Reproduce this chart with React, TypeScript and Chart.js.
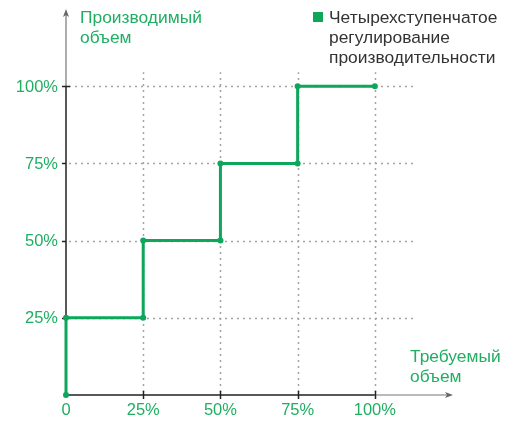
import React, { useEffect, useRef } from "react";
import { Chart, registerables } from "chart.js";

Chart.register(...registerables);

// Step profile: required volume (x, %) vs produced volume (y, %)
const requiredVolume = [0, 0, 25, 25, 50, 50, 75, 75, 100];
const producedVolume = [0, 25, 25, 50, 50, 75, 75, 100, 100];
const xTickValues = [0, 25, 50, 75, 100];
const yTickValues = [25, 50, 75, 100];
const xTickLabels = ["0", "25%", "50%", "75%", "100%"];
const yTickLabels = ["25%", "50%", "75%", "100%"];
const seriesLabel = ["Четырехступенчатое", "регулирование", "производительности"];
const yAxisTitle = ["Производимый", "объем"];
const xAxisTitle = ["Требуемый", "объем"];

const GREEN = "#0ea65a";
const TEXT_GREEN = "#1fae62";
const FONT = "Liberation Sans, Arial, sans-serif";

const axesPlugin = {
  id: "customAxes",
  beforeDatasetsDraw(chart: any) {
    const { ctx, chartArea, scales } = chart;
    const xs = scales.x;
    const ys = scales.y;
    const x0 = xs.getPixelForValue(0);
    const y0 = ys.getPixelForValue(0);
    ctx.save();

    // dotted grid
    ctx.strokeStyle = "#a3a3a3";
    ctx.lineWidth = 1.5;
    ctx.setLineDash([2, 4]);
    yTickValues.forEach((v) => {
      const py = Math.round(ys.getPixelForValue(v)) + 0.5;
      ctx.beginPath();
      ctx.moveTo(x0 + 3, py);
      ctx.lineTo(xs.getPixelForValue(113), py);
      ctx.stroke();
    });
    xTickValues.slice(1).forEach((v) => {
      const px = Math.round(xs.getPixelForValue(v)) + 0.5;
      ctx.beginPath();
      ctx.moveTo(px, y0 - 3);
      ctx.lineTo(px, ys.getPixelForValue(104.5));
      ctx.stroke();
    });
    ctx.setLineDash([]);

    // axis lines
    const x100 = xs.getPixelForValue(100);
    const y100 = ys.getPixelForValue(100);
    ctx.lineWidth = 1.5;
    ctx.strokeStyle = "#222";
    ctx.beginPath();
    ctx.moveTo(x0, y0);
    ctx.lineTo(x100, y0);
    ctx.moveTo(x0, y0);
    ctx.lineTo(x0, y100);
    ctx.stroke();
    ctx.strokeStyle = "#777";
    ctx.lineWidth = 1.2;
    ctx.beginPath();
    ctx.moveTo(x100, y0);
    ctx.lineTo(chartArea.right - 3, y0);
    ctx.moveTo(x0, y100);
    ctx.lineTo(x0, chartArea.top + 3);
    ctx.stroke();

    // arrow heads
    ctx.fillStyle = "#666";
    const r = chartArea.right;
    ctx.beginPath();
    ctx.moveTo(r, y0);
    ctx.lineTo(r - 8, y0 - 3);
    ctx.lineTo(r - 6, y0);
    ctx.lineTo(r - 8, y0 + 3);
    ctx.closePath();
    ctx.fill();
    const t = chartArea.top;
    ctx.beginPath();
    ctx.moveTo(x0, t);
    ctx.lineTo(x0 - 3, t + 8);
    ctx.lineTo(x0, t + 6);
    ctx.lineTo(x0 + 3, t + 8);
    ctx.closePath();
    ctx.fill();

    // tick marks
    ctx.strokeStyle = "#222";
    ctx.lineWidth = 1.5;
    yTickValues.forEach((v) => {
      const py = Math.round(ys.getPixelForValue(v)) + 0.5;
      ctx.beginPath();
      ctx.moveTo(x0 - 4, py);
      ctx.lineTo(v === 100 ? x0 + 4 : x0, py);
      ctx.stroke();
    });
    xTickValues.slice(1).forEach((v) => {
      const px = Math.round(xs.getPixelForValue(v)) + 0.5;
      ctx.beginPath();
      ctx.moveTo(px, y0 - 4);
      ctx.lineTo(px, y0 + 4);
      ctx.stroke();
    });

    // tick labels
    ctx.font = `16.5px ${FONT}`;
    ctx.fillStyle = TEXT_GREEN;
    ctx.textBaseline = "middle";
    ctx.textAlign = "right";
    yTickValues.forEach((v, i) => {
      ctx.fillText(yTickLabels[i], x0 - 8, ys.getPixelForValue(v) + 1);
    });
    ctx.textAlign = "center";
    xTickValues.forEach((v, i) => {
      ctx.fillText(xTickLabels[i], xs.getPixelForValue(v), y0 + 15);
    });

    // axis titles
    ctx.textAlign = "left";
    ctx.textBaseline = "alphabetic";
    ctx.font = `17.4px ${FONT}`;
    yAxisTitle.forEach((s, i) => ctx.fillText(s, x0 + 14, 23 + i * 20));
    xAxisTitle.forEach((s, i) => ctx.fillText(s, 410, 362 + i * 20));

    // legend
    ctx.fillStyle = GREEN;
    ctx.fillRect(313, 12, 10, 10);
    ctx.fillStyle = "#333";
    seriesLabel.forEach((s, i) => ctx.fillText(s, 329, 23 + i * 20));

    ctx.restore();
  },
};

export default function App() {
  const ref = useRef<HTMLCanvasElement>(null);
  useEffect(() => {
    if (!ref.current) return;
    const chart = new Chart(ref.current, {
      type: "scatter",
      data: {
        datasets: [
          {
            label: seriesLabel.join(" "),
            data: requiredVolume.map((x, i) => ({ x, y: producedVolume[i] })),
            showLine: true,
            borderColor: GREEN,
            backgroundColor: GREEN,
            borderWidth: 3,
            pointRadius: 3,
            pointBorderWidth: 0,
            clip: false as any,
          },
        ],
      },
      options: {
        responsive: false,
        animation: false,
        layout: { padding: { left: 66, right: 59, top: 9, bottom: 27 } },
        plugins: { legend: { display: false }, tooltip: { enabled: false } },
        scales: {
          x: { type: "linear", min: 0, max: 125.3, display: false },
          y: { type: "linear", min: 0, max: 125, display: false },
        },
      },
      plugins: [axesPlugin],
    });
    return () => chart.destroy();
  }, []);
  return (
    <div style={{ position: "absolute", left: 0, top: 0, width: 512, height: 422, background: "#fff" }}>
      <canvas ref={ref} width={512} height={422} />
    </div>
  );
}
